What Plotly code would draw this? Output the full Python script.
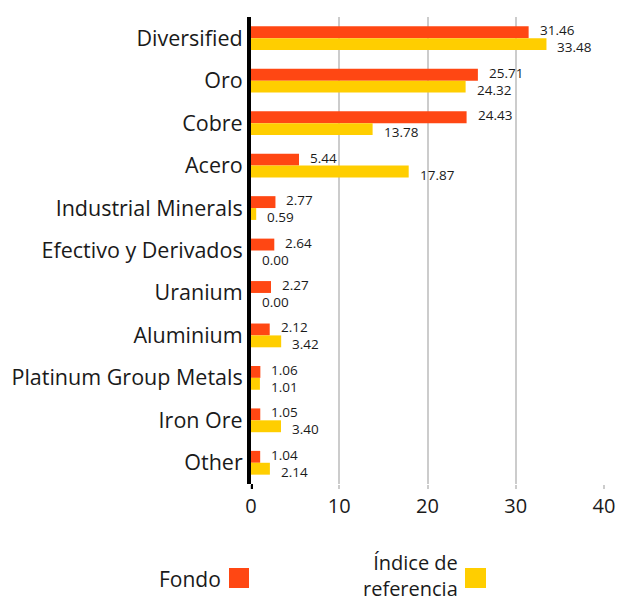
import plotly.graph_objects as go

categories = ["Diversified", "Oro", "Cobre", "Acero", "Industrial Minerals",
              "Efectivo y Derivados", "Uranium", "Aluminium",
              "Platinum Group Metals", "Iron Ore", "Other"]
fondo = [31.46, 25.71, 24.43, 5.44, 2.77, 2.64, 2.27, 2.12, 1.06, 1.05, 1.04]
indice = [33.48, 24.32, 13.78, 17.87, 0.59, 0.00, 0.00, 3.42, 1.01, 3.40, 2.14]
x_ticks = [0, 10, 20, 30, 40]
legend_fondo = "Fondo"
legend_indice = "Índice de<br>referencia"

ORANGE = "#FF4713"
YELLOW = "#FFCE00"
FONT = "Open Sans"
TXT = "#1a1a1a"

W, H = 617, 603
L, R, T, B = 251, 13, 17, 119
pw, ph = W - L - R, H - T - B

def px(x):
    return (x - L) / pw

def py(y):
    return (H - B - y) / ph

fig = go.Figure()
fig.add_trace(go.Bar(y=categories, x=fondo, orientation="h", name="Fondo",
                     marker=dict(color=ORANGE, line=dict(width=0))))
fig.add_trace(go.Bar(y=categories, x=indice, orientation="h", name="Índice de referencia",
                     marker=dict(color=YELLOW, line=dict(width=0))))

annotations = []
for c, v in zip(categories, fondo):
    annotations.append(dict(x=v, y=c, text=f"{v:.2f}", showarrow=False,
                            xanchor="left", xshift=9, yshift=8,
                            font=dict(size=13.5, color=TXT, family=FONT)))
for c, v in zip(categories, indice):
    annotations.append(dict(x=v, y=c, text=f"{v:.2f}", showarrow=False,
                            xanchor="left", xshift=9, yshift=-9,
                            font=dict(size=13.5, color=TXT, family=FONT)))

# legend drawn manually (text left of swatch)
annotations.append(dict(x=px(223), y=py(579), xref="paper", yref="paper",
                        text=legend_fondo, showarrow=False, xanchor="right",
                        yanchor="middle",
                        font=dict(size=21, color=TXT, family=FONT)))
annotations.append(dict(x=px(460), y=py(575), xref="paper", yref="paper",
                        text=legend_indice, showarrow=False, xanchor="right",
                        yanchor="middle", align="right",
                        font=dict(size=20, color=TXT, family=FONT)))
shapes = [
    dict(type="rect", xref="paper", yref="paper", x0=px(229), x1=px(249),
         y0=py(588), y1=py(568), fillcolor=ORANGE, line=dict(width=0)),
    dict(type="rect", xref="paper", yref="paper", x0=px(465), x1=px(486),
         y0=py(588), y1=py(568), fillcolor=YELLOW, line=dict(width=0)),
    dict(type="line", xref="x", yref="paper", x0=0, x1=0, y0=0, y1=py(489),
         line=dict(color="black", width=4)),
]

fig.update_layout(
    width=W, height=H,
    margin=dict(l=L, r=R, t=T, b=B, autoexpand=False),
    barmode="group", bargap=0.44, bargroupgap=0,
    plot_bgcolor="white", paper_bgcolor="white",
    showlegend=False,
    font=dict(family=FONT, color=TXT),
    annotations=annotations, shapes=shapes,
    xaxis=dict(range=[0, 40], tickvals=x_ticks, showgrid=True, gridcolor="#cccccc",
               gridwidth=2, zeroline=False, ticks="outside", ticklen=4,
               tickcolor="#cccccc", tickwidth=2, automargin=False,
               tickfont=dict(size=20, family=FONT, color=TXT)),
    yaxis=dict(autorange="reversed", showline=True, linecolor="black", linewidth=4,
               ticks="", ticklabelstandoff=0, automargin=False,
               tickfont=dict(size=21.5, family=FONT, color=TXT)),
)

fig.write_html("out.html", config={"displayModeBar": False},
               post_script="document.body.style.margin='0';document.body.style.overflow='hidden';")
